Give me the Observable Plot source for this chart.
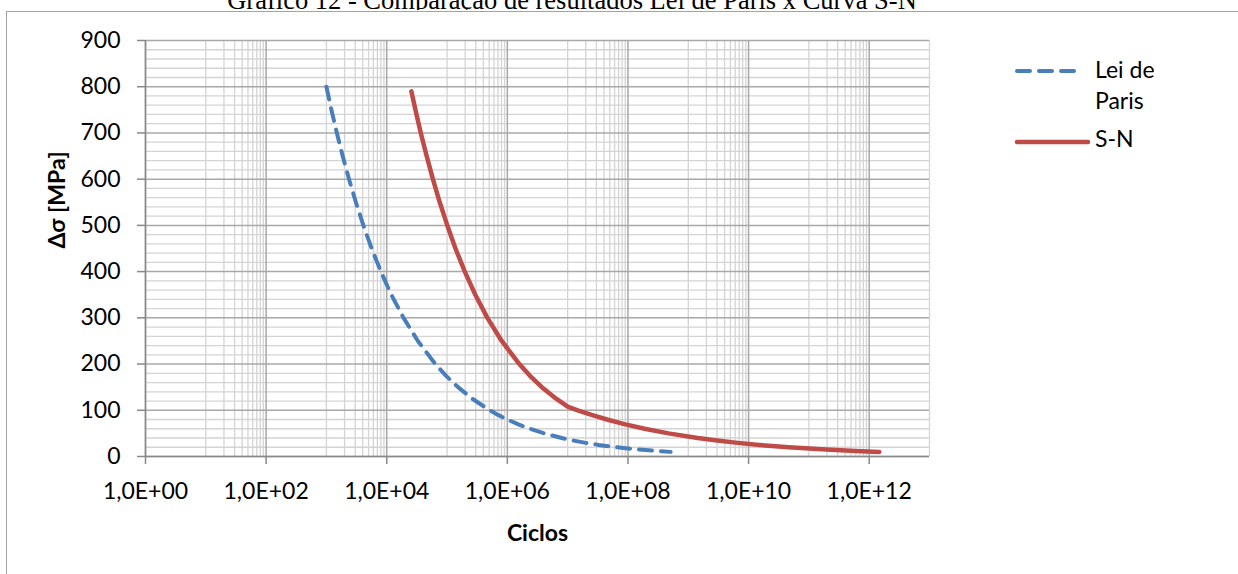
<!DOCTYPE html>
<html><head><meta charset="utf-8">
<script src="https://cdn.jsdelivr.net/npm/d3@7"></script>
<script src="https://cdn.jsdelivr.net/npm/@observablehq/plot@0.6"></script>
<style>
html,body{margin:0;padding:0;background:#fff;}
body{width:1238px;height:574px;overflow:hidden;position:relative;}
#title{height:10px;overflow:hidden;position:relative;font-family:"Liberation Serif","Times New Roman",serif;font-size:26.5px;}
#title span{position:absolute;left:0;width:1144px;text-align:center;top:-13px;line-height:26.5px;white-space:nowrap;}
#frame{position:absolute;left:6px;top:11px;width:1300px;height:700px;border-left:1.5px solid #a3a3a3;border-top:1.5px solid #a3a3a3;pointer-events:none;}
#legend{position:absolute;left:0;top:0;pointer-events:none;}
</style></head><body>
<div id="title"><span>Gráfico 12 - Comparação de resultados Lei de Paris x Curva S-N</span></div>
<div id="chart"></div>
<div id="frame"></div>
<script>
// Series: Lei de Paris (cycles, stress range MPa)
const parisN = [1.0e3, 1.21e3, 1.49e3, 1.86e3, 2.37e3, 3.08e3, 4.1e3, 5.62e3, 8.0e3, 1.19e4, 1.9e4, 3.28e4, 6.4e4, 9.55e4, 1.52e5, 2.62e5, 5.1e5, 7.02e5, 1.0e6, 1.49e6, 2.37e6, 4.1e6, 8.0e6, 1.19e7, 1.9e7, 3.28e7, 6.4e7, 1.52e8, 2.96e8, 5.1e8];
const parisS = [800, 750, 700, 650, 600, 550, 500, 450, 400, 350, 300, 250, 200, 175, 150, 125, 100, 90, 80, 70, 60, 50, 40, 35, 30, 25, 20, 15, 12, 10];
// Series: S-N curve
const snN = [2.56e4, 2.99e4, 3.67e4, 4.59e4, 5.83e4, 7.57e4, 1.01e5, 1.38e5, 1.97e5, 2.94e5, 4.67e5, 8.06e5, 1.58e6, 2.35e6, 3.73e6, 6.45e6, 1.0e7, 1.47e7, 2.49e7, 4.48e7, 8.72e7, 1.89e8, 4.70e8, 1.43e9, 2.81e9, 6.05e9, 1.5e10, 4.59e10, 1.93e11, 5.9e11, 1.47e12];
const snS = [790, 750, 700, 650, 600, 550, 500, 450, 400, 350, 300, 250, 200, 175, 150, 125, 108, 100, 90, 80, 70, 60, 50, 40, 35, 30, 25, 20, 15, 12, 10];
// Ticks
const xTickValues = [1e0, 1e2, 1e4, 1e6, 1e8, 1e10, 1e12];
const xTickLabels = ["1,0E+00", "1,0E+02", "1,0E+04", "1,0E+06", "1,0E+08", "1,0E+10", "1,0E+12"];
const yTickValues = [0, 100, 200, 300, 400, 500, 600, 700, 800, 900];
const yTickLabels = ["0", "100", "200", "300", "400", "500", "600", "700", "800", "900"];
const seriesNames = ["Lei de Paris", "S-N"];
const seriesColors = ["#4a7ebb", "#be4b48"];

const paris = parisN.map((n, i) => ({n, s: parisS[i]}));
const sn = snN.map((n, i) => ({n, s: snS[i]}));

const xMinor = [];
for (let m = 0; m < 6; m++) for (let k = 1; k <= 9; k++) xMinor.push(k * Math.pow(10, 2 * m + 1));
xMinor.push(1e13);
const yMinor = d3.range(0, 901, 20).filter(v => v % 100 !== 0);

const grid = "#d4d4d4", gridMajor = "#a8a8a8", axisC = "#898989";

const chart = Plot.plot({
  width: 1238, height: 564,
  marginTop: 30, marginBottom: 118, marginLeft: 145, marginRight: 309,
  style: {fontFamily: "Lato, sans-serif", fontSize: "23px", color: "black", background: "transparent", overflow: "visible"},
  x: {type: "log", domain: [1, 1e13]},
  y: {domain: [0, 900]},
  marks: [
    Plot.ruleX(xMinor, {stroke: grid, strokeWidth: 1.3}),
    Plot.ruleY(yMinor, {stroke: grid, strokeWidth: 1.3}),
    Plot.ruleX(xTickValues, {stroke: gridMajor, strokeWidth: 1.5}),
    Plot.ruleY(yTickValues, {stroke: gridMajor, strokeWidth: 1.5}),
    Plot.axisX({ticks: xTickValues, tickFormat: d => xTickLabels[xTickValues.indexOf(d)], tickSize: 8, tickPadding: 18, stroke: axisC, strokeWidth: 1.5, fill: "black", fontSize: 23, label: null}),
    Plot.axisY({ticks: yTickValues, tickFormat: d => yTickLabels[yTickValues.indexOf(d)], tickSize: 8, tickPadding: 17, stroke: axisC, strokeWidth: 1.5, fill: "black", fontSize: 23, label: null}),
    Plot.ruleY([0], {stroke: axisC, strokeWidth: 1.5}),
    Plot.ruleX([1], {stroke: axisC, strokeWidth: 1.5}),
    Plot.line(paris, {x: "n", y: "s", stroke: seriesColors[0], strokeWidth: 4, strokeDasharray: "13,9", strokeLinecap: "round"}),
    Plot.line(sn, {x: "n", y: "s", stroke: seriesColors[1], strokeWidth: 4.5, strokeLinecap: "round", strokeLinejoin: "round"}),
    Plot.text(["Ciclos"], {frameAnchor: "bottom", dy: 84, lineAnchor: "bottom", fontWeight: "bold", fontSize: 23, fill: "black"}),
    Plot.text(["Δσ [MPa]"], {frameAnchor: "left", dx: -81, rotate: -90, lineAnchor: "bottom", fontWeight: "bold", fontSize: 23, fill: "black"})
  ]
});
document.getElementById("chart").appendChild(chart);

// Legend
const lg = d3.select("body").append("svg").attr("id", "legend").attr("width", 1238).attr("height", 574)
  .style("font-family", "Lato, sans-serif").style("font-size", "23px");
lg.append("line").attr("x1", 1017).attr("x2", 1080).attr("y1", 71).attr("y2", 71)
  .attr("stroke", seriesColors[0]).attr("stroke-width", 4).attr("stroke-dasharray", "13,9").attr("stroke-linecap", "round");
lg.append("line").attr("x1", 1017).attr("x2", 1088).attr("y1", 142).attr("y2", 142)
  .attr("stroke", seriesColors[1]).attr("stroke-width", 4.5).attr("stroke-linecap", "round");
lg.append("text").attr("x", 1095).attr("y", 78).text("Lei de");
lg.append("text").attr("x", 1095).attr("y", 109).text("Paris");
lg.append("text").attr("x", 1095).attr("y", 147).text(seriesNames[1]);
</script>
</body></html>
